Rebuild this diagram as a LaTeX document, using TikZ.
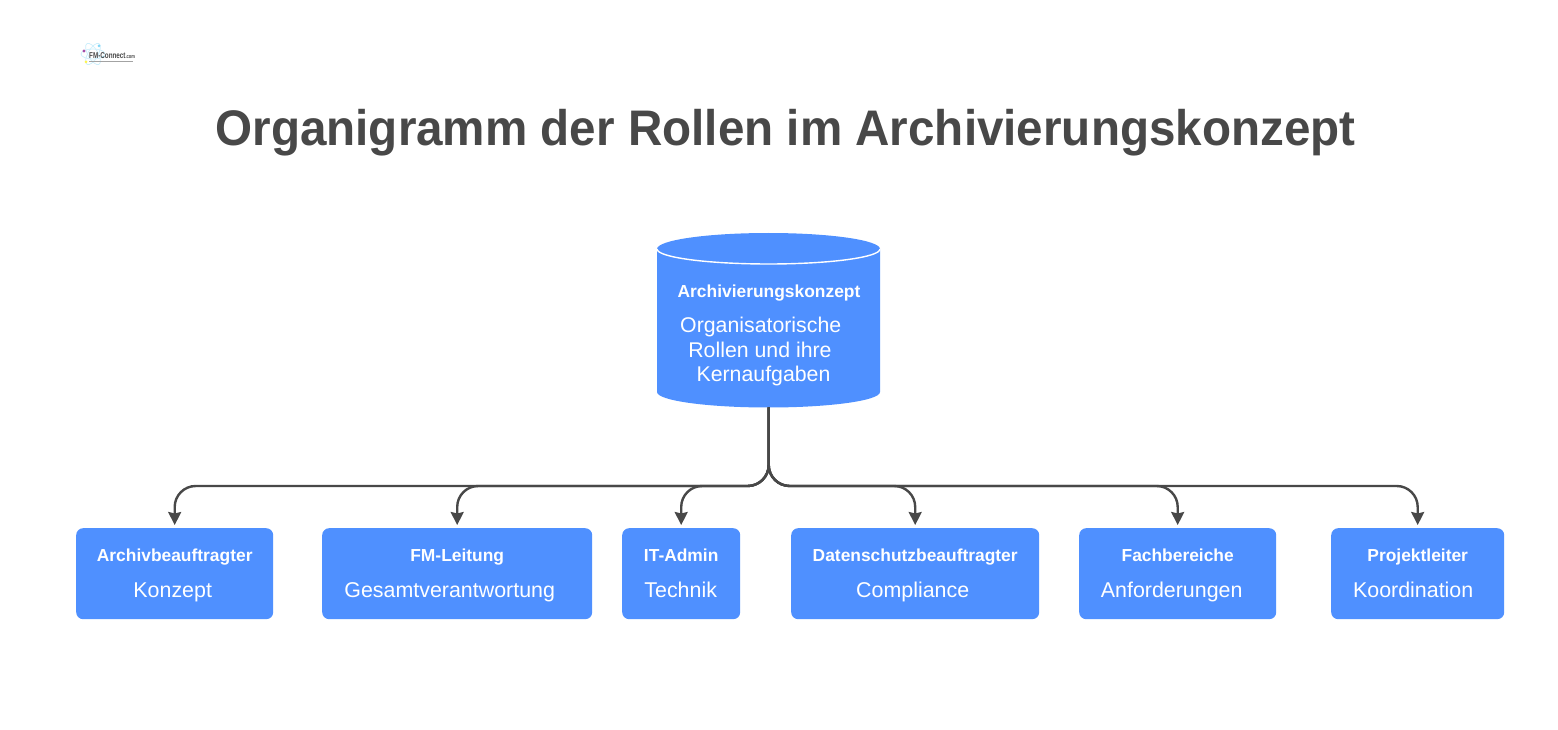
\documentclass[tikz,border=0pt]{standalone}
\usepackage{fontspec}
\setmainfont{Liberation Sans}
\usetikzlibrary{arrows.meta}
\definecolor{boxblue}{HTML}{4F90FF}
\definecolor{ink}{HTML}{484848}
\newcommand{\rolelabel}[3]{{\fontsize{17.4}{36}\bfseries\rule{0pt}{16pt}#1}\\{\rule[-5pt]{0pt}{5pt}#2\kern #3pt}}
\tikzset{
  rolebox/.style={fill=boxblue,rounded corners=7pt,text=white,align=center,inner sep=0pt,minimum height=91pt,anchor=north west,font=\fontsize{21.4}{36}\selectfont},
  conn/.style={draw=ink,line width=2.4pt,rounded corners=21pt,shorten >=3pt,-{Stealth[length=13pt,width=13pt,inset=1.5pt]}},
}
\begin{document}
\begin{tikzpicture}[x=1pt,y=-1pt]
\useasboundingbox (0,0) rectangle (1558,730);
\fill[white] (0,0) rectangle (1558,730);
% logo
\draw[cyan!20,line width=0.7pt] (93,54) ellipse (12pt and 5pt);
\draw[cyan!20,line width=0.7pt,rotate around={60:(93,54)}] (93,54) ellipse (12pt and 5pt);
\draw[cyan!20,line width=0.7pt,rotate around={-60:(93,54)}] (93,54) ellipse (12pt and 5pt);
\fill[violet!70] (84,51) circle (1.7pt);
\fill[cyan!50] (99,46) circle (1.5pt);
\fill[cyan!30] (103,57) circle (1.4pt);
\fill[yellow!70] (86,62) circle (1.5pt);
\node[inner sep=0pt,anchor=base west,text=ink] (logo) at (89,59) {\scalebox{0.74}[1]{\fontsize{8.5}{8.5}\bfseries FM-Connect\fontsize{5.5}{5.5}\selectfont .com}};
\draw[ink!50,line width=0.6pt] (89,61) -- (133,61);
% title
\node[inner sep=0pt,text=ink,anchor=base] (title) at (785.5,146) {\scalebox{1}[1.05]{\fontsize{47.6}{50}\bfseries Organigramm der Rollen im Archivierungskonzept}};
% root
\fill[boxblue] (657,249) arc[start angle=180,end angle=360,x radius=111.5,y radius=16] -- (880,392) arc[start angle=0,end angle=180,x radius=111.5,y radius=15.5] -- cycle;
\draw[white,line width=1.4pt] (657,249) arc[start angle=180,end angle=0,x radius=111.5,y radius=15];
\node[inner sep=0pt,minimum width=223pt,minimum height=174pt,anchor=north west] (root) at (657,233) {};
\node[inner sep=0pt,text=white,anchor=base] (roottitle) at (769,297) {\fontsize{17.4}{20}\bfseries Archivierungskonzept};
\node[inner sep=0pt,text=white,anchor=base] (roottext1) at (760.7,332) {\fontsize{21.3}{25}\selectfont Organisatorische};
\node[inner sep=0pt,text=white,anchor=base] (roottext2) at (760,357) {\fontsize{21.3}{25}\selectfont Rollen und ihre};
\node[inner sep=0pt,text=white,anchor=base] (roottext3) at (763.5,381) {\fontsize{21.3}{25}\selectfont Kernaufgaben};
% roles
\node[rolebox,minimum width=197pt] (a) at (76,528) {\rolelabel{Archivbeauftragter}{Konzept}{4}};
\node[rolebox,minimum width=270pt] (b) at (322,528) {\rolelabel{FM-Leitung}{Gesamtverantwortung}{15}};
\node[rolebox,minimum width=118pt] (c) at (622,528) {\rolelabel{IT-Admin}{Technik}{1}};
\node[rolebox,minimum width=248pt] (d) at (791,528) {\rolelabel{Datenschutzbeauftragter}{Compliance}{5}};
\node[rolebox,minimum width=197pt] (e) at (1079,528) {\rolelabel{Fachbereiche}{Anforderungen}{12}};
\node[rolebox,minimum width=173pt] (f) at (1331,528) {\rolelabel{Projektleiter}{Koordination}{9}};
% connectors
\coordinate (bus) at (768.5,486);
\foreach \t in {a,b,c,d,e,f}{
  \draw[conn] (root.south) -- (bus -| root.south) -- (bus -| \t.north) -- (\t.north);
}
\end{tikzpicture}
\end{document}
